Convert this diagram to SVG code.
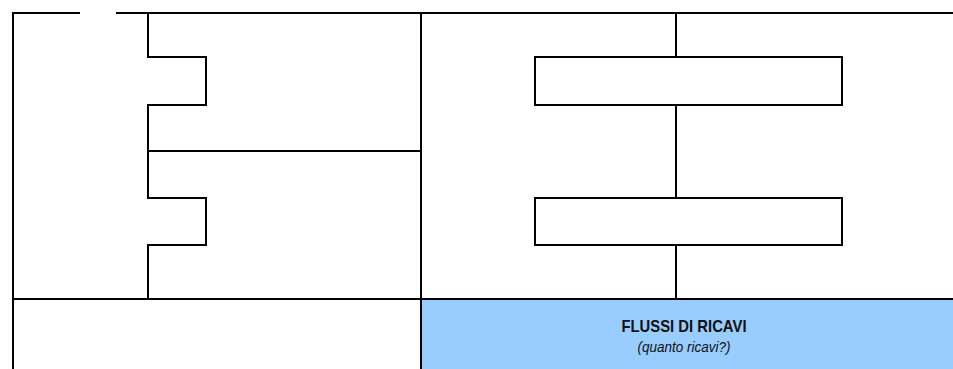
<svg xmlns="http://www.w3.org/2000/svg" width="953" height="369" viewBox="0 0 953 369">
<style>
.ln{fill:none;stroke:#000;stroke-width:2;stroke-linecap:square}
.box{fill:#fff;stroke:#000;stroke-width:2}
.t1{font-family:"Liberation Sans",Arial,sans-serif;font-weight:bold;font-size:17px;fill:#111;text-anchor:middle}
.t2{font-family:"Liberation Sans",Arial,sans-serif;font-style:italic;font-size:14px;fill:#111;text-anchor:middle}
</style>
<rect width="953" height="369" fill="#fff"/>
<g id="revenue">
<rect x="421" y="299" width="532" height="70" fill="#99CCFF"/>
<text class="t1" x="684" y="332" textLength="125" lengthAdjust="spacingAndGlyphs">FLUSSI DI RICAVI</text>
<text class="t2" x="684" y="352" textLength="93" lengthAdjust="spacingAndGlyphs">(quanto ricavi?)</text>
</g>
<g id="connectors">
<path class="ln" d="M13 13H79M117 13H952"/>
<path class="ln" d="M13 13V369"/>
<path class="ln" d="M148 13V57H206V105H148V198H206V245H148V299"/>
<path class="ln" d="M148 151H420"/>
<path class="ln" d="M421 13V369"/>
<path class="ln" d="M13 299H952"/>
<path class="ln" d="M676 13V57M676 105V198M676 245V299"/>
</g>
<g id="box1"><rect class="box" x="535" y="57" width="307" height="48"/></g>
<g id="box2"><rect class="box" x="535" y="198" width="307" height="47"/></g>
</svg>
